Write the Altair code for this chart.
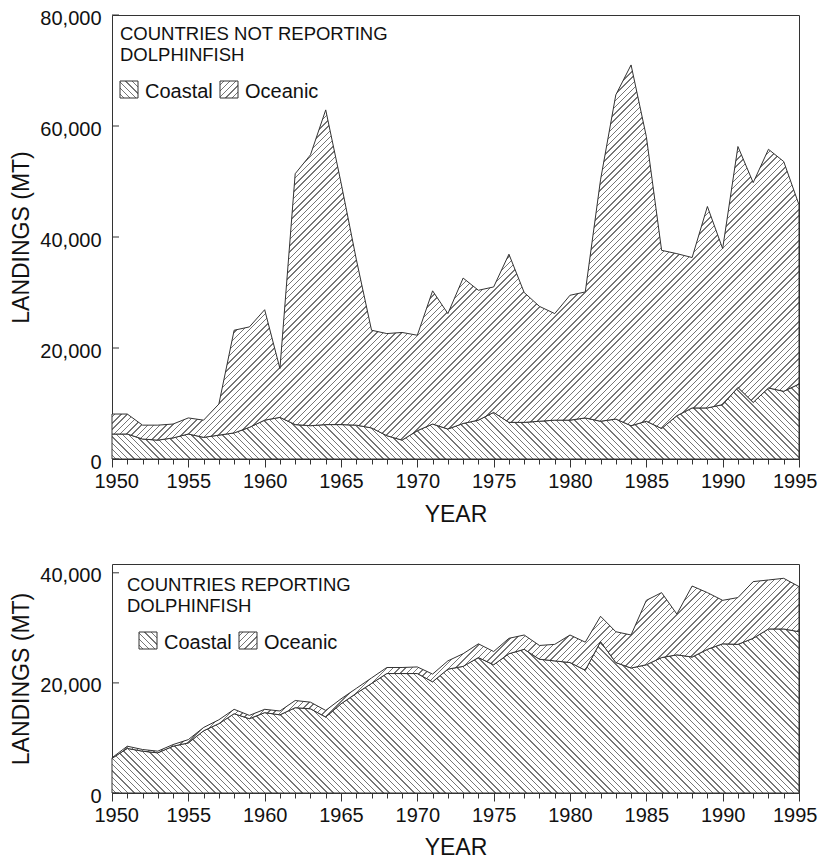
import math
import altair as alt
import pandas as pd

# ---------------- data ----------------
years = list(range(1950, 1996))

# Countries NOT reporting dolphinfish
nr_coastal = [4500, 4500, 3600, 3400, 3800, 4500, 3900, 4300, 4700, 5700,
              7000, 7500, 6200, 6000, 6200, 6200, 6100, 5600, 4200, 3400,
              5100, 6300, 5400, 6400, 7000, 8400, 6600, 6600, 6800, 7000,
              7000, 7400, 6800, 7200, 6000, 6800, 5500, 7800, 9200, 9200,
              9800, 12900, 10200, 12800, 12200, 13500]
nr_total = [8100, 8100, 6100, 6100, 6300, 7400, 7000, 9900, 23200, 23800,
            26900, 16300, 51400, 54800, 62900, 49800, 36000, 23200, 22600, 22800,
            22300, 30300, 26200, 32600, 30400, 31000, 36900, 30000, 27500, 26200,
            29500, 30100, 50300, 65600, 71000, 58100, 37600, 37000, 36300, 45500,
            37900, 56300, 49800, 55800, 53600, 45800]

# Countries reporting dolphinfish
r_coastal = [6300, 8100, 7600, 7300, 8500, 9100, 11300, 12600, 14400, 13500,
             14600, 14200, 15500, 15300, 13800, 16200, 18100, 19900, 21700, 21700,
             21700, 20200, 22500, 23000, 24600, 23300, 25300, 26100, 24300, 24000,
             23700, 22300, 27500, 23700, 22700, 23300, 24600, 25100, 24700, 26100,
             27100, 27000, 28100, 29800, 29800, 29300]
r_total = [6400, 8500, 7900, 7600, 8800, 9700, 11900, 13300, 15200, 14100,
           15200, 14900, 16800, 16500, 15000, 17100, 19000, 20900, 22800, 22800,
           22900, 21600, 24000, 25300, 27100, 25700, 28100, 28700, 26800, 27000,
           28700, 27400, 32100, 29300, 28700, 35000, 36400, 32500, 37600, 36400,
           35000, 35500, 38400, 38700, 39000, 37500]

major_years = [1950, 1955, 1960, 1965, 1970, 1975, 1980, 1985, 1990, 1995]
top_yticks = [0, 20000, 40000, 60000, 80000]
bot_yticks = [0, 20000, 40000]
top_title = ["COUNTRIES NOT REPORTING", "DOLPHINFISH"]
bot_title = ["COUNTRIES REPORTING", "DOLPHINFISH"]
series_names = ["Coastal", "Oceanic"]

FONT = "Liberation Sans"
W = 687
TOP_H, TOP_MAX = 444, 80000
BOT_H, BOT_MAX = 229, 41600


def hatch(w, h, direction, period=4.4, lw=1.0, line="#767676", bg="#ffffff"):
    """Linear gradient with many hard stops that imitates diagonal hatching."""
    s = w + h
    k = s / (w * w + h * h)
    if direction == "back":      # \\\\ lines
        x1, y1, x2, y2 = 0, 1, k * w, 1 - k * h
    else:                        # //// lines
        x1, y1, x2, y2 = 0, 0, k * w, k * h
    step = period * math.sqrt(2) / s
    lwt = lw * math.sqrt(2) / s
    stops = [{"offset": 0, "color": bg}]
    t = step / 2
    while t + lwt < 1:
        a, b = round(t, 6), round(t + lwt, 6)
        stops += [{"offset": a, "color": bg}, {"offset": a, "color": line},
                  {"offset": b, "color": line}, {"offset": b, "color": bg}]
        t += step
    stops.append({"offset": 1, "color": bg})
    return {"gradient": "linear", "x1": x1, "y1": y1, "x2": x2, "y2": y2, "stops": stops}


def text_layer(s, x, y, size):
    return alt.Chart(pd.DataFrame({"t": [s]})).mark_text(
        align="left", baseline="alphabetic", fontSize=size, font=FONT, color="#111"
    ).encode(text="t:N", x=alt.value(x), y=alt.value(y))


def swatch(x, y, grad):
    return alt.Chart(pd.DataFrame({"a": [0]})).mark_rect(
        fill=grad, stroke="#333", strokeWidth=1
    ).encode(x=alt.value(x), x2=alt.value(x + 18), y=alt.value(y), y2=alt.value(y + 17))


def panel(coastal, total, ymax, H, yticks, title_lines, lx, ly, sx, tpad):
    df = pd.DataFrame({"year": years, "coastal": coastal, "total": total})
    px = H / ymax
    hc = max(coastal) * px
    ho = (max(total) - min(coastal)) * px

    xs = alt.Scale(domain=[1950, 1995], nice=False, zero=False)
    ys = alt.Scale(domain=[0, ymax], nice=False, zero=True)
    major = alt.Axis(values=major_years, format="d", tickSize=8, labelPadding=4,
                     title="YEAR", titlePadding=tpad, orient="bottom", grid=False,
                     domain=False, labelFlush=True, labelFlushOffset=18,
                     labelOverlap=False)
    minor = alt.Axis(values=years, labels=False, tickSize=5, title=None,
                     orient="bottom", grid=False, domain=False)
    yaxis = alt.Axis(values=yticks, format=",d", ticks=False, labelPadding=11,
                     title="LANDINGS (MT)", titlePadding=6, grid=False,
                     domain=False, labelFlush=False, labelOffset=3)

    coast = alt.Chart(df).mark_area(
        fill=hatch(W, hc, "back"), stroke="#333", strokeWidth=1, opacity=1
    ).encode(
        x=alt.X("year:Q", scale=xs, axis=major),
        y=alt.Y("coastal:Q", scale=ys, axis=yaxis),
    )
    ocean = alt.Chart(df).mark_area(
        fill=hatch(W, ho, "fwd"), stroke="#333", strokeWidth=1, opacity=1
    ).encode(
        x=alt.X("year:Q", scale=xs, axis=minor),
        y=alt.Y("total:Q", scale=ys, axis=yaxis),
        y2="coastal:Q",
    )
    ytk = alt.Chart(pd.DataFrame({"v": yticks})).mark_rule(
        color="#333", strokeWidth=1
    ).encode(y=alt.Y("v:Q", scale=ys, axis=yaxis), x=alt.value(0), x2=alt.value(7))

    legend = [
        text_layer(title_lines[0], lx, ly, 18.5),
        text_layer(title_lines[1], lx, ly + 21, 18.5),
        swatch(sx, ly + 41, hatch(18, 17, "back")),
        text_layer(series_names[0], sx + 25, ly + 58, 20),
        swatch(sx + 100, ly + 41, hatch(18, 17, "fwd")),
        text_layer(series_names[1], sx + 125, ly + 58, 20),
    ]
    return alt.layer(coast, ocean, ytk, *legend).resolve_axis(x="independent").properties(
        width=W, height=H
    )


top = panel(nr_coastal, nr_total, TOP_MAX, TOP_H, top_yticks, top_title, 8, 25, 8, 12)
bottom = panel(r_coastal, r_total, BOT_MAX, BOT_H, bot_yticks, bot_title, 15, 27, 27, 11)

chart = alt.vconcat(top, bottom, spacing=36).properties(
    padding={"left": 2, "top": -1, "right": 0, "bottom": -3}
).configure_view(
    stroke="#333", strokeWidth=1
).configure_axis(
    labelFont=FONT, titleFont=FONT, labelFontSize=20, titleFontSize=23,
    titleFontWeight="normal", labelColor="#111", titleColor="#111", tickColor="#333"
)

chart.save("out.html", embed_options={"renderer": "svg", "actions": False})
